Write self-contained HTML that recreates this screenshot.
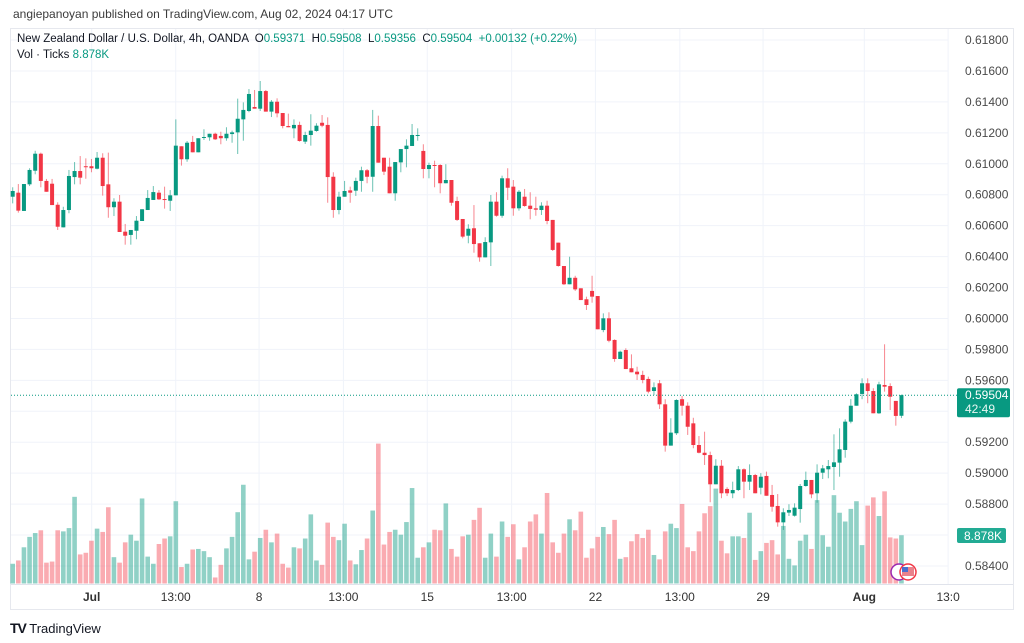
<!DOCTYPE html>
<html><head><meta charset="utf-8">
<style>
html,body{margin:0;padding:0;background:#fff;width:1024px;height:643px;overflow:hidden;font-family:"Liberation Sans",sans-serif;}
#hdr{position:absolute;left:13px;top:7px;font-size:12px;color:#3b3b3b;}
#frame{position:absolute;left:10px;top:28px;width:1004px;height:582px;border:1px solid #e6e8ee;box-sizing:border-box;}
#legend1{position:absolute;left:17px;top:33px;font-size:11.5px;color:#131722;white-space:pre;}
#legend2{position:absolute;left:17px;top:49px;font-size:11.5px;color:#131722;}
.g{color:#089981}
#foot{position:absolute;left:10px;top:620px;font-size:13px;color:#131722;}
svg{position:absolute;left:0;top:0;}
</style></head><body>
<div id="hdr">angiepanoyan published on TradingView.com, Aug 02, 2024 04:17 UTC</div>
<div id="frame"></div>
<svg id="chart" width="1024" height="643"></svg>
<div id="legend1">New Zealand Dollar / U.S. Dollar, 4h, OANDA  O<span class="g">0.59371</span>  H<span class="g">0.59508</span>  L<span class="g">0.59356</span>  C<span class="g">0.59504</span>  <span class="g">+0.00132 (+0.22%)</span></div>
<div id="legend2">Vol · Ticks  <span class="g">8.878K</span></div>
<div id="foot"><b style="font-size:14px;letter-spacing:-1px">TV</b> TradingView</div>
<script>
const opens=[60787,60813,60695,60867,60955,61065,60889,60871,60735,60589,60701,60914,60953,60984,60984,60968,61039,60867,60719,60755,60561,60540,60567,60630,60701,60766,60813,60772,60761,60796,61113,61029,61141,61074,61169,61171,61194,61180,61165,61192,61203,61287,61341,61367,61356,61470,61337,61401,61328,61244,61229,61251,61143,61186,61212,61265,61251,60916,60701,60787,60828,60826,60889,60958,60916,61244,61039,60981,60809,61009,61095,61115,61184,61083,60966,60992,60992,60874,60895,60759,60643,60535,60583,60486,60395,60492,60755,60664,60906,60852,60712,60787,60729,60712,60701,60729,60637,60490,60339,60221,60263,60195,60124,60178,60145,59925,60001,59861,59738,59796,59678,59656,59635,59609,59531,59581,59445,59178,59258,59478,59436,59322,59182,59132,59117,58928,59048,58898,58870,58891,59025,58945,58988,58906,58982,58859,58788,58682,58745,58725,58768,58917,58956,58870,59003,59025,59040,59068,59150,59333,59436,59512,59581,59531,59387,59570,59563,59467,59371];
const closes=[60824,60697,60869,60960,61065,60889,60819,60733,60593,60701,60921,60953,60910,60979,60971,61039,60856,60719,60755,60559,60535,60572,60632,60706,60779,60817,60770,60768,60796,61117,61029,61136,61074,61165,61173,61194,61158,61165,61194,61203,61291,61348,61451,61356,61470,61337,61401,61326,61244,61236,61251,61147,61186,61214,61246,61246,60914,60701,60787,60824,60813,60889,60958,60916,61244,61007,60949,60809,61011,61095,61117,61186,61186,60966,60992,60990,60874,60895,60748,60637,60529,60580,60481,60395,60494,60755,60664,60906,60845,60712,60819,60727,60708,60703,60729,60630,60443,60339,60221,60263,60188,60119,60087,60141,59930,60001,59856,59738,59785,59673,59652,59639,59602,59527,59555,59445,59178,59262,59473,59436,59300,59182,59132,59117,58928,59048,58870,58870,58891,59025,58945,58988,58870,58977,58854,58783,58682,58747,58762,58777,58917,58956,58863,59003,59031,59046,59070,59154,59333,59436,59510,59581,59531,59387,59574,59559,59494,59370,59504];
const highs=[60848,60869,60869,60971,61084,61072,60902,60902,60751,60722,60960,61011,61050,61035,61031,61076,61068,61072,60777,60798,60611,60572,60662,60706,60830,60856,60830,60852,60830,61287,61113,61147,61180,61165,61223,61194,61201,61207,61236,61214,61421,61397,61483,61477,61535,61477,61412,61423,61328,61324,61287,61272,61207,61320,61262,61315,61300,60945,60819,60889,60852,60910,60981,60966,61348,61311,61039,61039,61011,61095,61158,61257,61229,61126,61007,61020,60997,60997,60895,60787,60643,60609,60733,60486,60525,60798,60816,60923,60971,60895,60830,60837,60816,60787,60751,60761,60637,60490,60339,60399,60276,60195,60141,60276,60145,60033,60040,59865,59792,59807,59768,59688,59662,59624,59587,59602,59478,59355,59478,59499,59458,59358,59240,59268,59139,59090,59085,58909,58945,59046,59031,59057,58995,59000,59010,58924,58865,58773,58799,58805,58930,59010,58956,59057,59053,59085,59251,59290,59348,59479,59516,59613,59613,59549,59591,59833,59581,59467,59508];
const lows=[60744,60684,60695,60856,60932,60848,60819,60733,60572,60589,60680,60867,60867,60903,60945,60964,60794,60651,60662,60559,60477,60477,60512,60630,60701,60766,60766,60710,60695,60796,60988,61013,61074,61074,61154,61149,61154,61126,61149,61136,61063,61149,61333,61356,61341,61337,61302,61300,61229,61236,61165,61143,61128,61117,61207,61236,60748,60651,60673,60787,60748,60792,60819,60874,60819,61007,60927,60809,60761,60945,60977,61115,61149,60906,60906,60848,60809,60874,60729,60630,60518,60486,60425,60367,60395,60339,60658,60651,60766,60664,60697,60722,60641,60664,60669,60609,60436,60335,60216,60221,60178,60119,60055,60102,59930,59911,59846,59720,59738,59673,59652,59602,59581,59516,59505,59415,59139,59178,59247,59372,59247,59161,59128,59053,58812,58928,58838,58852,58838,58885,58838,58891,58870,58863,58854,58751,58654,58633,58723,58719,58680,58913,58838,58809,58962,58967,58891,58977,59100,59322,59436,59478,59452,59387,59383,59527,59408,59307,59356];
const volumes=[3.6,4.2,6.6,8.5,9.2,9.7,3.8,4.0,9.7,9.5,10.1,15.8,5.3,5.6,7.8,10.0,9.4,13.9,4.8,3.8,7.5,8.9,7.8,15.5,4.9,3.6,7.2,8.2,8.6,15.0,3.0,3.6,6.2,6.3,5.9,4.8,1.1,3.4,6.4,8.5,13.0,18.0,4.4,5.8,8.3,9.8,7.5,9.1,3.6,2.9,6.6,6.4,8.2,12.6,4.2,3.4,11.1,8.5,7.9,10.9,4.2,3.5,6.1,8.2,13.3,25.5,7.1,9.4,9.8,8.9,11.2,17.4,4.7,6.6,7.5,9.8,9.7,14.6,6.3,4.9,8.6,8.9,11.6,13.8,4.7,9.1,4.9,11.3,8.5,10.8,4.4,6.6,11.3,12.6,9.1,16.5,7.5,5.6,9.1,11.7,9.7,13.1,4.7,6.4,8.5,10.3,9.0,11.6,4.5,4.8,7.7,9.0,8.3,9.8,5.2,4.4,9.5,10.9,10.1,14.5,6.6,5.9,9.5,12.8,14.1,17.3,7.8,5.5,8.6,8.6,8.3,12.9,4.3,5.9,7.4,7.9,5.3,10.5,4.5,3.3,7.8,8.9,6.3,15.2,8.8,6.7,16.1,12.9,11.3,13.6,15.0,7.0,14.2,15.7,12.3,16.8,8.4,8.2,8.8];
const priceTicks=[0.618,0.616,0.614,0.612,0.610,0.608,0.606,0.604,0.602,0.600,0.598,0.596,0.594,0.592,0.590,0.588,0.586,0.584];
const timeLabels=["Jul","13:00","8","13:00","15","13:00","22","13:00","29","Aug","13:0"];
const timeIdx=[14.04,28.98,43.8,58.8,73.7,88.7,103.6,118.6,133.4,151.4,166.3];

const svg=document.getElementById('chart');
const NS='http://www.w3.org/2000/svg';
function yP(p){return 40+(0.618-p)/0.002*30.94;}
function xI(i){return 12.7+5.625*i;}
function yV(v){return 583.5-v*5.486;}
function mk(tag,attrs){const e=document.createElementNS(NS,tag);for(const k in attrs)e.setAttribute(k,attrs[k]);svg.appendChild(e);return e;}
const GREEN='#089981',RED='#f23645';

priceTicks.forEach(function(p){
  const y=yP(p);
  const l=mk('line',{x1:11,x2:948,y1:y,y2:y,stroke:'#f0f3fa','stroke-width':1});
  
  
  if(Math.abs(p-0.594)<1e-6||Math.abs(p-0.586)<1e-6) return;
  const t=mk('text',{x:965,y:y+4,'font-size':'12','fill':'#4a4a4a','font-family':'Liberation Sans, sans-serif'});
  t.textContent=p.toFixed(5);
  
  
});
timeIdx.forEach(function(ix,k){
  const x=xI(ix);
  const l=mk('line',{x1:x,x2:x,y1:29,y2:584,stroke:'#f0f3fa','stroke-width':1});
  
  
  const t=mk('text',{x:x,y:601,'font-size':'12','fill':'#333','text-anchor':'middle','font-family':'Liberation Sans, sans-serif','font-weight':(timeLabels[k]==='Jul'||timeLabels[k]==='Aug')?'bold':'normal'});
  t.textContent=timeLabels[k];
  
  
});
volumes.forEach(function(v,i){
  const up=closes[i]>=opens[i];
  const r=mk('rect',{x:xI(i)-2.3,y:yV(v),width:4.6,height:583.5-yV(v),fill:up?'rgba(8,153,129,0.45)':'rgba(242,54,69,0.42)'});
  
  
});
opens.forEach(function(o,i){
  const c=closes[i],up=c>=o,col=up?GREEN:RED,x=xI(i);
  const w=mk('line',{x1:x,x2:x,y1:yP(highs[i]/1e5),y2:yP(lows[i]/1e5),stroke:col,'stroke-width':1,'stroke-opacity':0.6});
  
  
  const yt=yP(Math.max(o,c)/1e5),yb=yP(Math.min(o,c)/1e5);
  const b=mk('rect',{x:x-2,y:yt,width:4,height:Math.max(1,yb-yt),fill:col});
  
  
});
const ab=mk('line',{x1:11,x2:1013,y1:584.5,y2:584.5,stroke:'#e0e3eb','stroke-width':1});


const lastP=closes[closes.length-1]/1e5;
const pl=mk('line',{x1:11,x2:957,y1:yP(lastP),y2:yP(lastP),stroke:GREEN,'stroke-width':1,'stroke-dasharray':'1,2'});


const pb=mk('rect',{x:957,y:yP(lastP)-7,width:53,height:29,rx:2,fill:GREEN});


const pt=mk('text',{x:965,y:yP(lastP)+4,'font-size':'12','fill':'#fff','font-family':'Liberation Sans, sans-serif'});
pt.textContent=lastP.toFixed(5);


const ct=mk('text',{x:965,y:yP(lastP)+18,'font-size':'12','fill':'#e8f7f3','font-family':'Liberation Sans, sans-serif'});
ct.textContent='42:49';


const vb=mk('rect',{x:957,y:528,width:49,height:15,rx:2,fill:'#22ab94'});


const vt=mk('text',{x:964,y:540,'font-size':'12','fill':'#fff','font-family':'Liberation Sans, sans-serif'});
vt.textContent='8.878K';


const e1=mk('circle',{cx:899,cy:572,r:8,fill:'#fff',stroke:'#9c27b0','stroke-width':1.5});


const e2=mk('circle',{cx:908,cy:572,r:8,fill:'#fff',stroke:'#f23645','stroke-width':1.5});


const e3=mk('rect',{x:902,y:567,width:12,height:9,fill:'#e9828c'});


const e4=mk('rect',{x:902,y:567,width:6,height:5,fill:'#4a6fd0'});


</script>
</body></html>
